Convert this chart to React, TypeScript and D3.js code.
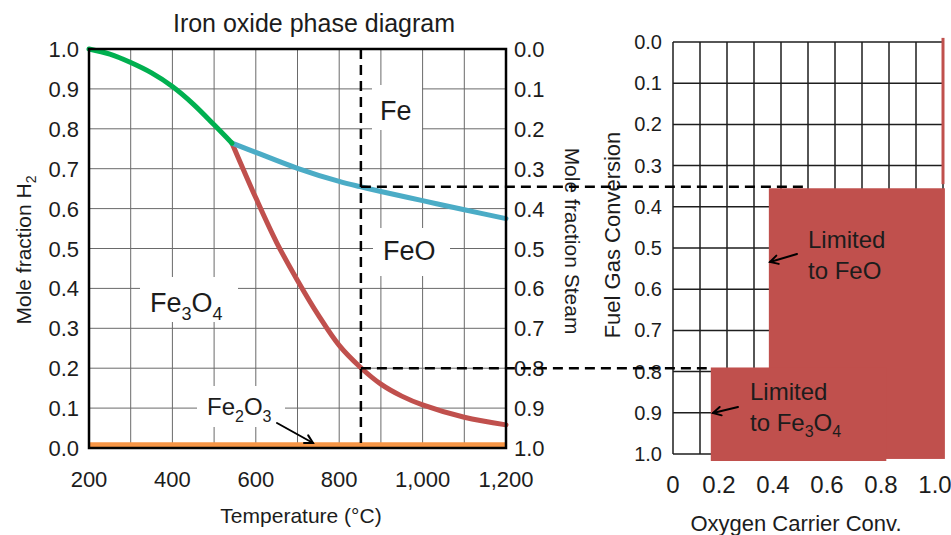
import React from "react";
import * as d3 from "d3";

// ---- data ----
const tempTicks = [200, 400, 600, 800, 1000, 1200];
const tempGrid = [200, 300, 400, 500, 600, 700, 800, 900, 1000, 1100, 1200];
const fracTicks = [0, 0.1, 0.2, 0.3, 0.4, 0.5, 0.6, 0.7, 0.8, 0.9, 1.0];
const convTicks = [0, 0.2, 0.4, 0.6, 0.8, 1.0];
const convGrid = [0, 0.1, 0.2, 0.3, 0.4, 0.5, 0.6, 0.7, 0.8, 0.9, 1.0];

// Fe3O4 -> Fe boundary (green)
const greenT = [200, 250, 300, 350, 400, 450, 500, 543];
const greenH2 = [1.0, 0.987, 0.966, 0.94, 0.906, 0.862, 0.81, 0.764];
// FeO -> Fe boundary (blue)
const blueT = [543, 600, 700, 800, 850, 900, 1000, 1100, 1200];
const blueH2 = [0.764, 0.741, 0.701, 0.668, 0.655, 0.643, 0.62, 0.597, 0.575];
// Fe3O4 -> FeO boundary (red)
const redT = [543, 600, 650, 700, 750, 800, 850, 900, 950, 1000, 1100, 1200];
const redH2 = [0.764, 0.627, 0.515, 0.42, 0.333, 0.257, 0.203, 0.16, 0.13, 0.108, 0.077, 0.058];
// Fe2O3 line
const orangeT = [200, 1200];
const orangeH2 = [0.008, 0.008];

const dashTemp = 852;
const dashSteam = [0.345, 0.8];
const dashConvEnd = [0.5, 0.125];

// limit regions on the right chart: [convStart, convEnd, fuelStart, fuelEnd]
const regionFeO = [0.355, 1.007, 0.355, 1.012];
const regionFe3O4 = [0.14, 0.79, 0.79, 1.017];
const feLine = [1.0, -0.01, 0.345];

const FONT = "'Liberation Sans', Arial, Helvetica, sans-serif";
const TXT = "#1c1c1c";
const RED = "#c0504d";

export default function App() {
  const xL = d3.scaleLinear().domain([200, 1200]).range([89, 506]);
  const yL = d3.scaleLinear().domain([0, 1]).range([448, 49]);
  const yS = d3.scaleLinear().domain([0, 1]).range([49, 448]);
  const xR = d3.scaleLinear().domain([0, 1]).range([673, 943]);
  const yR = d3.scaleLinear().domain([0, 1]).range([42, 454]);

  const line = d3
    .line<[number, number]>()
    .x((d) => xL(d[0]))
    .y((d) => yL(d[1]))
    .curve(d3.curveCatmullRom.alpha(0.5));

  const zip = (a: number[], b: number[]) => a.map((v, i) => [v, b[i]] as [number, number]);

  const arrow = (x1: number, y1: number, x2: number, y2: number, key: string) => {
    const a = Math.atan2(y2 - y1, x2 - x1);
    const L = 9;
    const s = 0.5;
    const p1 = [x2 - L * Math.cos(a - s), y2 - L * Math.sin(a - s)];
    const p2 = [x2 - L * Math.cos(a + s), y2 - L * Math.sin(a + s)];
    return (
      <g key={key} stroke="#000" strokeWidth={2} fill="none" strokeLinecap="round">
        <line x1={x1} y1={y1} x2={x2} y2={y2} />
        <polyline points={`${p1[0]},${p1[1]} ${x2},${y2} ${p2[0]},${p2[1]}`} />
      </g>
    );
  };

  return (
    <svg width={951} height={535} style={{ position: "absolute", left: 0, top: 0, background: "#fff" }} fontFamily={FONT}>
      <rect x={0} y={0} width={951} height={535} fill="#fff" />
      {/* ---------- LEFT CHART ---------- */}
      <text x={314} y={32} fontSize={25} textAnchor="middle" fill={TXT}>
        Iron oxide phase diagram
      </text>
      {/* grid */}
      <g stroke="#6a6a6a" strokeWidth={1}>
        {tempGrid.map((t) => (
          <line key={"vg" + t} x1={xL(t)} x2={xL(t)} y1={yL(0)} y2={yL(1)} />
        ))}
        {fracTicks.map((f) => (
          <line key={"hg" + f} x1={xL(200)} x2={xL(1200)} y1={yL(f)} y2={yL(f)} />
        ))}
      </g>
      {/* label boxes */}
      <g fill="#fff">
        <rect x={372} y={85} width={50} height={45} />
        <rect x={373} y={228} width={77} height={48} />
        <rect x={140} y={277} width={98} height={45} />
        <rect x={197} y={386} width={88} height={41} />
      </g>
      {/* curves */}
      <path d={line(zip(orangeT, orangeH2)) || ""} stroke="#f79646" strokeWidth={5} fill="none" />
      <path d={line(zip(redT, redH2)) || ""} stroke={RED} strokeWidth={5} fill="none" strokeLinecap="round" />
      <path d={line(zip(blueT, blueH2)) || ""} stroke="#4bacc6" strokeWidth={5} fill="none" strokeLinecap="round" />
      <path d={line(zip(greenT, greenH2)) || ""} stroke="#00b050" strokeWidth={5} fill="none" strokeLinecap="round" />
      {/* border */}
      <rect x={xL(200)} y={yL(1)} width={xL(1200) - xL(200)} height={yL(0) - yL(1)} fill="none" stroke="#000" strokeWidth={2.5} />
      {/* y ticks left */}
      {fracTicks.map((f) => (
        <text key={"yl" + f} x={79} y={yL(f) + 8} fontSize={22} textAnchor="end" fill={TXT}>
          {f.toFixed(1)}
        </text>
      ))}
      {/* steam ticks right */}
      {fracTicks.map((f) => (
        <text key={"yr" + f} x={514} y={yS(f) + 8} fontSize={22} textAnchor="start" fill={TXT}>
          {f.toFixed(1)}
        </text>
      ))}
      {/* x ticks */}
      {tempTicks.map((t) => (
        <text key={"xt" + t} x={xL(t)} y={487} fontSize={22} textAnchor="middle" fill={TXT}>
          {d3.format(",")(t)}
        </text>
      ))}
      <text x={301} y={523} fontSize={21} textAnchor="middle" fill={TXT}>
        Temperature (°C)
      </text>
      <text transform={`translate(31,250) rotate(-90)`} fontSize={21} textAnchor="middle" fill={TXT}>
        Mole fraction H<tspan fontSize={14} dy={5}>2</tspan>
      </text>
      <text transform={`translate(565,241) rotate(90)`} fontSize={21} textAnchor="middle" fill={TXT}>
        Mole fraction Steam
      </text>
      {/* phase labels */}
      <text x={380} y={120} fontSize={27} fill={TXT}>Fe</text>
      <text x={383} y={260} fontSize={27} fill={TXT}>FeO</text>
      <text x={150} y={312} fontSize={27} fill={TXT}>
        Fe<tspan fontSize={18} dy={8}>3</tspan>
        <tspan dy={-8}>O</tspan>
        <tspan fontSize={18} dy={8}>4</tspan>
      </text>
      <text x={207} y={415} fontSize={24} fill={TXT}>
        Fe<tspan fontSize={16} dy={7}>2</tspan>
        <tspan dy={-7}>O</tspan>
        <tspan fontSize={16} dy={7}>3</tspan>
      </text>
      {arrow(277, 423, 313, 443, "a0")}

      {/* ---------- RIGHT CHART ---------- */}
      <g stroke="#1e1e1e" strokeWidth={1.5}>
        {convGrid.map((c) => (
          <line key={"rv" + c} x1={xR(c)} x2={xR(c)} y1={yR(0)} y2={yR(1)} />
        ))}
        {fracTicks.map((f) => (
          <line key={"rh" + f} x1={xR(0)} x2={xR(1)} y1={yR(f)} y2={yR(f)} />
        ))}
      </g>
      <rect
        x={xR(regionFeO[0])}
        y={yR(regionFeO[2])}
        width={xR(regionFeO[1]) - xR(regionFeO[0])}
        height={yR(regionFeO[3]) - yR(regionFeO[2])}
        fill={RED}
      />
      <rect
        x={xR(regionFe3O4[0])}
        y={yR(regionFe3O4[2])}
        width={xR(regionFe3O4[1]) - xR(regionFe3O4[0])}
        height={yR(regionFe3O4[3]) - yR(regionFe3O4[2])}
        fill={RED}
      />
      <line x1={xR(feLine[0])} x2={xR(feLine[0])} y1={yR(feLine[1])} y2={yR(feLine[2])} stroke={RED} strokeWidth={3} />
      {fracTicks.map((f) => (
        <text key={"rt" + f} x={662} y={yR(f) + 7} fontSize={20} textAnchor="end" fill={TXT}>
          {f.toFixed(1)}
        </text>
      ))}
      {convTicks.map((c) => (
        <text key={"ct" + c} x={c === 0 ? xR(c) : xR(c) - 8} y={493} fontSize={24} textAnchor="middle" fill={TXT}>
          {c === 0 ? "0" : c.toFixed(1)}
        </text>
      ))}
      <text x={796} y={531} fontSize={22} textAnchor="middle" fill={TXT}>
        Oxygen Carrier Conv.
      </text>
      <text transform={`translate(620,235) rotate(-90)`} fontSize={22} textAnchor="middle" fill={TXT}>
        Fuel Gas Conversion
      </text>
      <text x={808} y={248} fontSize={24} fill={TXT}>Limited</text>
      <text x={808} y={279} fontSize={24} fill={TXT}>to FeO</text>
      <text x={750} y={400} fontSize={24} fill={TXT}>Limited</text>
      <text x={750} y={431} fontSize={24} fill={TXT}>
        to Fe<tspan fontSize={16} dy={6}>3</tspan>
        <tspan dy={-6}>O</tspan>
        <tspan fontSize={16} dy={6}>4</tspan>
      </text>
      {arrow(797, 254, 770, 262, "a1")}
      {arrow(738, 407, 713, 413, "a2")}

      {/* ---------- dashed connectors ---------- */}
      <g stroke="#000" strokeWidth={2.5} strokeDasharray="10,6" fill="none">
        <line x1={xL(dashTemp)} x2={xL(dashTemp)} y1={yL(1)} y2={yL(0)} />
        {dashSteam.map((s, i) => (
          <line key={"dh" + i} x1={xL(dashTemp)} x2={xR(dashConvEnd[i])} y1={yS(s)} y2={yS(s)} />
        ))}
      </g>
    </svg>
  );
}
